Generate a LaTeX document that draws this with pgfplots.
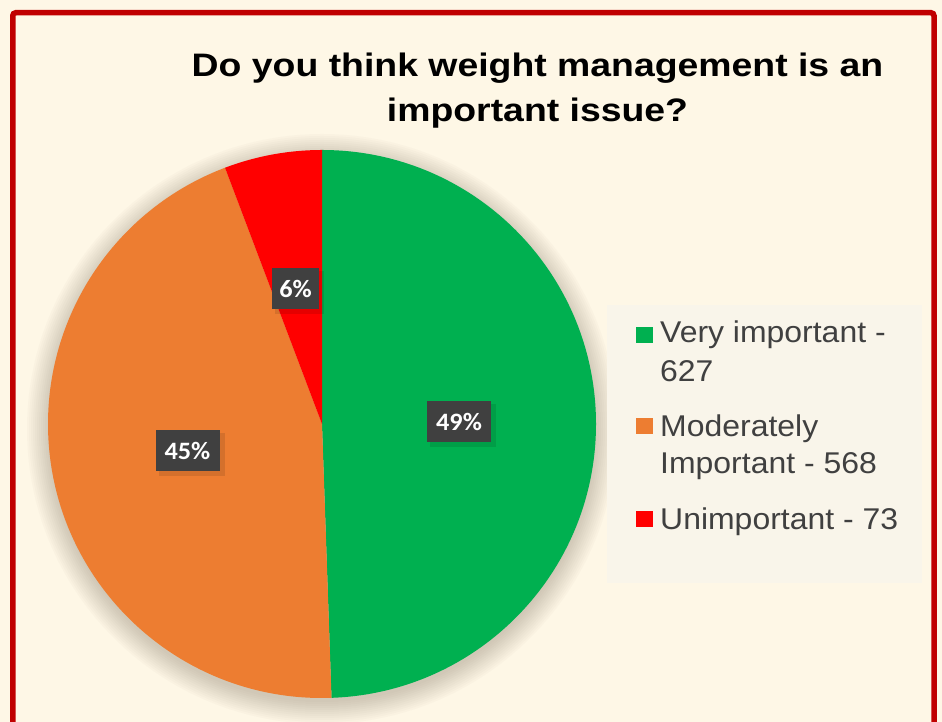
\documentclass[border=0pt]{standalone}
\usepackage{fontspec}
\setmainfont{Liberation Sans}
\newfontfamily\carlito[FakeStretch=1.05]{Carlito}
\newfontfamily\titlefont[FakeStretch=1.15]{Liberation Sans}
\newfontfamily\legfont[FakeStretch=1.065]{Liberation Sans}
\usepackage{pgfplots}
\usepackage{pgfplotstable}
\pgfplotsset{compat=1.18}
\definecolor{bg}{HTML}{FEF7E6}
\definecolor{frame}{HTML}{C00000}
\definecolor{legbg}{HTML}{F9F5EA}
\definecolor{sgreen}{HTML}{00B050}
\definecolor{sorange}{HTML}{ED7D31}
\definecolor{sred}{HTML}{FF0000}
\definecolor{lblbg}{HTML}{404040}
\definecolor{legtext}{HTML}{404040}
\definecolor{shadowc}{HTML}{6E6450}

\pgfplotstableread{
cat value
1 627
2 568
3 73
}\piedata

\begin{document}
\begin{tikzpicture}[x=1pt,y=1pt]
\pgfplotstablegetelem{0}{value}\of\piedata \let\va\pgfplotsretval
\pgfplotstablegetelem{1}{value}\of\piedata \let\vb\pgfplotsretval
\pgfplotstablegetelem{2}{value}\of\piedata \let\vc\pgfplotsretval
\pgfmathsetmacro\tot{\va+\vb+\vc}
\pgfmathsetmacro\fA{\va/\tot}
\pgfmathsetmacro\fB{\vb/\tot}
\pgfmathsetmacro\fC{\vc/\tot}
\pgfmathsetmacro\aA{90-360*\fA}
\pgfmathsetmacro\aB{\aA-360*\fB}
\pgfmathtruncatemacro\pA{round(100*\fA)}
\pgfmathtruncatemacro\pB{round(100*\fB)}
\pgfmathtruncatemacro\pC{round(100*\fC)}
% background and frame
\fill[bg] (0,0) rectangle (942,722);
\draw[frame, line width=5.5pt, rounded corners=3pt] (12.75,-20) -- (12.75,709.25) -- (934,709.25) -- (934,-20);
% pie shadow
\foreach \k in {22,20,...,0}{
  \fill[shadowc, opacity=0.028] (322,293) circle[radius={273+\k}];
}
\begin{axis}[x=1pt,y=1pt,xmin=0,xmax=942,ymin=0,ymax=722,hide axis,clip=false,
  at={(0,0)},anchor=origin]
\fill[sgreen] (axis cs:322,298) -- ++(90:274pt) arc[start angle=90, end angle=\aA, radius=274pt] -- cycle;
\fill[sorange] (axis cs:322,298) -- ++(\aA:274pt) arc[start angle=\aA, end angle=\aB, radius=274pt] -- cycle;
\fill[sred] (axis cs:322,298) -- ++(\aB:274pt) arc[start angle=\aB, end angle=-270, radius=274pt] -- cycle;
\end{axis}
% data labels
\tikzset{lbl/.style={fill=lblbg, text=white, inner sep=0pt, minimum height=41pt,
   font=\carlito\bfseries\fontsize{25}{25}\selectfont},
   lblsh/.style={fill=black, opacity=0.10, inner sep=0pt, minimum height=43pt}}
\node[lblsh, minimum width=66pt] at (463,296.5) {};
\node[lblsh, minimum width=66pt] at (191.5,267.5) {};
\node[lblsh, minimum width=49pt] at (299.5,429.5) {};
\node[lbl, minimum width=64pt] at (459,300.5) {\pA\%};
\node[lbl, minimum width=64pt] at (187.5,271.5) {\pB\%};
\node[lbl, minimum width=47pt] at (295.5,433.5) {\pC\%};
% title
\node[anchor=base, font=\titlefont\bfseries\fontsize{32.5}{38}\selectfont] at (537.5,645.5) {Do you think weight management is an};
\node[anchor=base, font=\titlefont\bfseries\fontsize{32.5}{38}\selectfont] at (537.5,600.5) {important issue?};
% legend
\fill[legbg] (607,139) rectangle (922,417);
\fill[sgreen] (636,379) rectangle (653,395);
\fill[sorange] (636,287.5) rectangle (653,303.5);
\fill[sred] (636,194.5) rectangle (653,210.5);
\tikzset{lt/.style={anchor=base west, inner sep=0pt, text=legtext, font=\legfont\fontsize{30}{36}\selectfont}}
\node[lt] at (660,379) {Very important -};
\node[lt] at (660,340) {627};
\node[lt] at (660,285) {Moderately};
\node[lt] at (660,248) {Important - 568};
\node[lt] at (660,192) {Unimportant - 73};
\pgfresetboundingbox
\path[use as bounding box] (0,0) rectangle (942,722);
\end{tikzpicture}
\end{document}
